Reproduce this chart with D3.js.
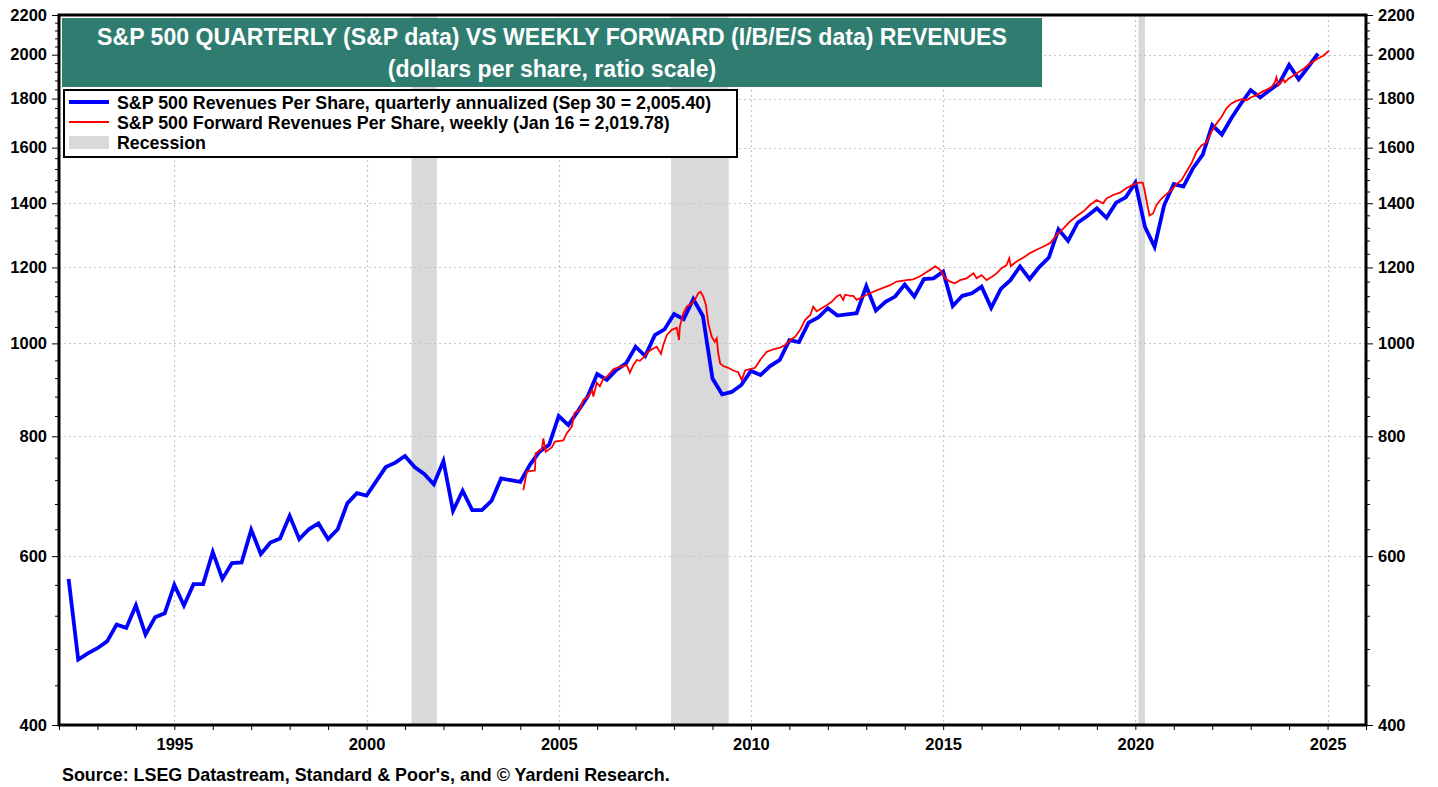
<!DOCTYPE html>
<html>
<head>
<meta charset="utf-8">
<script src="https://cdn.jsdelivr.net/npm/d3@7"></script>
<style>
  body { margin: 0; background: #fff; }
  svg { display: block; font-family: "Liberation Sans", Arial, sans-serif; }
  .axis text { font-weight: bold; font-size: 16.5px; fill: #000; }
  .axis path { display: none; }
  .axis line { stroke: #000; stroke-width: 1; }
</style>
</head>
<body>
<svg id="chart" width="1438" height="787"></svg>
<script>
// quarterly revenues per share, annualized, first value = Q1 1992 (quarter ends)
var revStart = 1992;
var revValues = [
  568, 468, 475, 481,   489, 509, 505, 533,   497, 518, 523, 560,
  533, 561, 561, 606,   568, 590, 591, 639,   603, 620, 626, 661,
  625, 640, 649, 625,   640, 681, 698, 694,   718, 743, 751, 763,
  743, 731, 713, 754,   669, 702, 670, 670,   685, 723, 720, 717,
  747, 771, 784, 840,   822, 850, 880, 929,   916, 938, 953, 992,
  970, 1020, 1034, 1073, 1060, 1112, 1068, 919, 885, 890, 905, 936,
  927, 947, 961, 1008,  1003, 1051, 1064, 1088, 1069, 1072, 1075, 1147,
  1082, 1105, 1119, 1152, 1119, 1167, 1169, 1188, 1094, 1121, 1128, 1146,
  1089, 1140, 1164, 1203, 1167, 1201, 1229, 1315, 1279, 1336, 1358, 1383,
  1352, 1402, 1420, 1471, 1323, 1261, 1394, 1466, 1457, 1523, 1572, 1689,
  1651, 1718, 1779, 1837, 1805, 1837, 1869, 1951, 1885, 1943, 2005.4
];

// forward revenues per share (weekly series, read at a coarser step)
var fwdDates = [
  2004.08, 2004.17, 2004.38, 2004.40, 2004.56, 2004.60, 2004.66, 2004.82, 2004.90,
  2005.12, 2005.21, 2005.34, 2005.41, 2005.55, 2005.64, 2005.77, 2005.87, 2005.90, 2005.99,
  2006.07, 2006.16, 2006.25, 2006.42, 2006.55, 2006.68, 2006.77, 2006.85, 2006.94,
  2007.03, 2007.11, 2007.24, 2007.33, 2007.46, 2007.55, 2007.66, 2007.72, 2007.81, 2007.94,
  2008.07, 2008.13, 2008.15, 2008.24, 2008.33, 2008.46, 2008.54, 2008.63, 2008.69, 2008.76, 2008.83, 2008.89, 2008.98,
  2009.06, 2009.11, 2009.15, 2009.20, 2009.28, 2009.41, 2009.54, 2009.67, 2009.76, 2009.85, 2009.97,
  2010.11, 2010.24, 2010.41, 2010.58, 2010.76, 2010.89,
  2011.02, 2011.15, 2011.28, 2011.41, 2011.54, 2011.62, 2011.71, 2011.84, 2011.97,
  2012.10, 2012.23, 2012.32, 2012.40, 2012.45, 2012.58, 2012.66, 2012.75, 2012.92,
  2013.18, 2013.40, 2013.62, 2013.79,
  2014.05, 2014.22, 2014.40, 2014.53, 2014.66, 2014.79, 2014.87, 2014.96,
  2015.05, 2015.18, 2015.31, 2015.44, 2015.61, 2015.79, 2015.87,
  2016.00, 2016.13, 2016.26, 2016.39, 2016.52, 2016.65, 2016.72, 2016.76, 2016.91,
  2017.09, 2017.26, 2017.43, 2017.61, 2017.78, 2017.95,
  2018.13, 2018.30, 2018.47, 2018.65, 2018.82, 2018.99,
  2019.16, 2019.25, 2019.42, 2019.60, 2019.77, 2019.95,
  2020.08, 2020.19, 2020.24, 2020.33, 2020.37, 2020.46, 2020.55, 2020.68, 2020.81, 2020.94,
  2021.07, 2021.20, 2021.33, 2021.46, 2021.59, 2021.72, 2021.85, 2021.98,
  2022.11, 2022.24, 2022.37, 2022.50, 2022.63, 2022.76, 2022.89,
  2023.02, 2023.15, 2023.28, 2023.42, 2023.54, 2023.63, 2023.67, 2023.72, 2023.85, 2023.89, 2023.98,
  2024.11, 2024.24, 2024.37, 2024.50, 2024.63, 2024.76, 2024.89, 2025.04
];
var fwdValues = [
  703, 735, 737, 768, 775, 796, 771, 779, 790,
  792, 806, 819, 846, 853, 873, 880, 894, 880, 910,
  902, 919, 923, 940, 944, 947, 949, 932, 949,
  961, 959, 970, 980, 988, 992, 975, 996, 1020, 1033,
  1038, 1008, 1041, 1075, 1092, 1101, 1110, 1128, 1132, 1119, 1096, 1049, 1016,
  1004, 1012, 976, 953, 947, 943, 937, 933, 916, 937, 940,
  943, 961, 980, 986, 990, 996,
  1008, 1016, 1033, 1058, 1070, 1092, 1080, 1088, 1096,
  1105, 1119, 1124, 1110, 1124, 1121, 1121, 1110, 1119,
  1132, 1141, 1150, 1160,
  1164, 1166, 1175, 1184, 1193, 1203, 1198, 1188,
  1169, 1160, 1155, 1164, 1169, 1183, 1169,
  1178, 1164, 1173, 1183, 1198, 1207, 1227, 1204, 1217,
  1229, 1242, 1252, 1262, 1272, 1297,
  1318, 1340, 1357, 1373, 1394, 1411,
  1400, 1416, 1428, 1436, 1452, 1464,
  1471, 1471, 1445, 1383, 1359, 1366, 1394, 1416, 1431, 1445,
  1466, 1480, 1510, 1541, 1584, 1608, 1620, 1662,
  1695, 1722, 1758, 1779, 1790, 1797, 1793,
  1807, 1814, 1828, 1839, 1850, 1872, 1894, 1858, 1885, 1872, 1887,
  1902, 1917, 1932, 1952, 1968, 1983, 1995, 2019.78
];

// recessions (start, end) in decimal years
var recessions = [[2001.17, 2001.83], [2007.92, 2009.42], [2020.08, 2020.25]];

var yMajor = [400, 600, 800, 1000, 1200, 1400, 1600, 1800, 2000, 2200];
var yearLabels = [1995, 2000, 2005, 2010, 2015, 2020, 2025];

var titleLines = [
  "S&P 500 QUARTERLY (S&P data) VS WEEKLY FORWARD (I/B/E/S data) REVENUES",
  "(dollars per share, ratio scale)"
];
var legendItems = [
  { label: "S&P 500 Revenues Per Share, quarterly annualized (Sep 30 = 2,005.40)", kind: "blue" },
  { label: "S&P 500 Forward Revenues Per Share, weekly (Jan 16 = 2,019.78)", kind: "red" },
  { label: "Recession", kind: "rec" }
];
var sourceText = "Source: LSEG Datastream, Standard & Poor's, and \u00A9 Yardeni Research.";

var svg = d3.select("#chart");
var plotL = 59, plotR = 1366, plotT = 15, plotB = 725;

var x = d3.scaleLinear().domain([1992, 2026]).range([plotL, plotR]);
var y = d3.scaleLog().domain([400, 2200]).range([plotB, plotT]);

var revData = revValues.map(function(v, i) { return { t: revStart + (i + 1) / 4, v: v }; });
var fwdData = fwdDates.map(function(t, i) { return { t: t, v: fwdValues[i] }; });

// recession bands
svg.append("g").selectAll("rect")
  .data(recessions)
  .enter().append("rect")
  .attr("x", function(d) { return x(d[0]); })
  .attr("width", function(d) { return x(d[1]) - x(d[0]); })
  .attr("y", plotT)
  .attr("height", plotB - plotT)
  .attr("fill", "#d9d9d9");

// grid
var grid = svg.append("g").attr("stroke", "#c4c4c4").attr("stroke-width", 1.2).attr("stroke-dasharray", "2,3");
grid.selectAll(".gy")
  .data(yMajor.filter(function(v) { return v > 400 && v < 2200; }))
  .enter().append("line")
  .attr("x1", plotL).attr("x2", plotR)
  .attr("y1", function(d) { return Math.round(y(d)) + 0.5; })
  .attr("y2", function(d) { return Math.round(y(d)) + 0.5; });
grid.selectAll(".gx")
  .data(yearLabels)
  .enter().append("line")
  .attr("y1", plotT).attr("y2", plotB)
  .attr("x1", function(d) { return Math.round(x(d)) + 0.5; })
  .attr("x2", function(d) { return Math.round(x(d)) + 0.5; });

// lines
var line = d3.line()
  .x(function(d) { return x(d.t); })
  .y(function(d) { return y(d.v); });

svg.append("path")
  .datum(revData)
  .attr("fill", "none")
  .attr("stroke", "#0000ff")
  .attr("stroke-width", 3.8)
  .attr("d", line);

svg.append("path")
  .datum(fwdData)
  .attr("fill", "none")
  .attr("stroke", "#ff0000")
  .attr("stroke-width", 1.8)
  .attr("d", line);

// axes
var yMinor = d3.range(440, 2200, 40).filter(function(v) { return yMajor.indexOf(v) < 0; });

svg.append("g").attr("class", "axis")
  .attr("transform", "translate(" + plotL + ",0)")
  .call(d3.axisLeft(y).tickValues(yMajor).tickFormat(d3.format("d")).tickSize(7).tickPadding(5));
svg.append("g").attr("class", "axis")
  .attr("transform", "translate(" + plotL + ",0)")
  .call(d3.axisLeft(y).tickValues(yMinor).tickFormat("").tickSize(4));

svg.append("g").attr("class", "axis")
  .attr("transform", "translate(" + plotR + ",0)")
  .call(d3.axisRight(y).tickValues(yMajor).tickFormat(d3.format("d")).tickSize(7).tickPadding(5));
svg.append("g").attr("class", "axis")
  .attr("transform", "translate(" + plotR + ",0)")
  .call(d3.axisRight(y).tickValues(yMinor).tickFormat("").tickSize(4));

svg.append("g").attr("class", "axis")
  .attr("transform", "translate(0," + plotB + ")")
  .call(d3.axisBottom(x).tickValues(d3.range(1992, 2027))
    .tickFormat(function(d) { return yearLabels.indexOf(d) >= 0 ? d : ""; })
    .tickSize(5).tickPadding(8));

// frame
svg.append("rect")
  .attr("x", plotL).attr("y", plotT)
  .attr("width", plotR - plotL).attr("height", plotB - plotT)
  .attr("fill", "none").attr("stroke", "#000").attr("stroke-width", 3);

// title box
svg.append("rect")
  .attr("x", 62).attr("y", 18).attr("width", 980).attr("height", 69)
  .attr("fill", "#2e7d70");
svg.append("g").selectAll("text")
  .data(titleLines)
  .enter().append("text")
  .attr("x", 552)
  .attr("y", function(d, i) { return 45 + i * 32; })
  .attr("text-anchor", "middle")
  .attr("fill", "#fff")
  .attr("font-weight", "bold")
  .attr("font-size", "23.1px")
  .text(function(d) { return d; });

// legend
var lg = svg.append("g");
lg.append("rect")
  .attr("x", 64).attr("y", 90).attr("width", 673).attr("height", 67)
  .attr("fill", "#fff").attr("stroke", "#000").attr("stroke-width", 2);
var item = lg.selectAll(".item")
  .data(legendItems)
  .enter().append("g")
  .attr("transform", function(d, i) { return "translate(0," + (102 + i * 20) + ")"; });
item.filter(function(d) { return d.kind === "blue"; }).append("line")
  .attr("x1", 69).attr("x2", 109).attr("stroke", "#0000ff").attr("stroke-width", 3.8);
item.filter(function(d) { return d.kind === "red"; }).append("line")
  .attr("x1", 69).attr("x2", 109).attr("stroke", "#ff0000").attr("stroke-width", 1.8);
item.filter(function(d) { return d.kind === "rec"; }).append("rect")
  .attr("x", 69).attr("y", -6).attr("width", 40).attr("height", 13).attr("fill", "#d9d9d9");
item.append("text")
  .attr("x", 117).attr("y", 6.5)
  .attr("font-weight", "bold").attr("font-size", "17.8px")
  .text(function(d) { return d.label; });

// source
svg.append("text")
  .attr("x", 62).attr("y", 781)
  .attr("font-weight", "bold").attr("font-size", "17.9px")
  .text(sourceText);
</script>
</body>
</html>
